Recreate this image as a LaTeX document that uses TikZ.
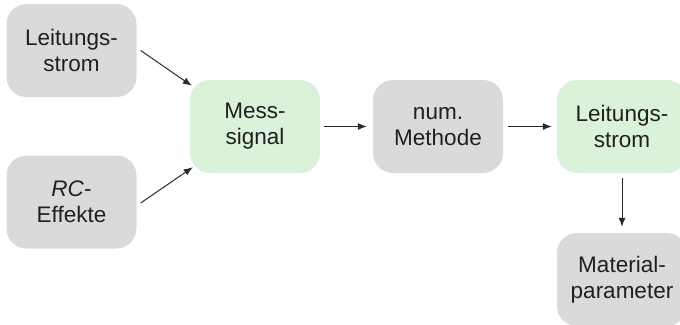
\documentclass[tikz,border=0pt]{standalone}
\usepackage{fontspec}
\setmainfont{Liberation Sans}
\usetikzlibrary{calc,arrows.meta}
\definecolor{boxgray}{HTML}{D9DADC}
\definecolor{boxgreen}{HTML}{D9F2D9}
\definecolor{txt}{HTML}{231F20}
\definecolor{ln}{HTML}{2A2A2A}
\begin{document}
\begin{tikzpicture}[x=1pt,y=-1pt,
  box/.style={rounded corners=20pt, minimum width=130pt, minimum height=93pt,
    inner sep=0pt, align=center, text=txt,
    font=\fontsize{22.5}{26}\selectfont},
  gbox/.style={box, fill=boxgray},
  ebox/.style={box, fill=boxgreen},
  conn/.style={draw=ln, line width=1pt, -{Latex[length=9pt,width=7pt]}}]
\useasboundingbox (0,0) rectangle (680,324);
\clip (0,0) rectangle (680,324);
\node[gbox] (lin) at (71.5,50.5) {Leitungs-\\strom};
\node[gbox] (rc) at (71.5,202) {\textit{RC}-\\Effekte};
\node[ebox] (mess) at (255,126.5) {Mess-\\signal};
\node[gbox] (num) at (438,126.5) {num.\\Methode};
\node[ebox] (lout) at (622,126.5) {Leitungs-\\strom};
\node[gbox] (mat) at (622,279.5) {Material-\\parameter};
\draw[conn] ($(lin.east)+(4,0)$) -- ($(mess.north west)+(2,6)$);
\draw[conn] ($(rc.east)+(4,1)$) -- ($(mess.south west)+(3,-6)$);
\draw[conn] ($(mess.east)+(4,0)$) -- ($(num.west)+(-6,0)$);
\draw[conn] ($(num.east)+(5,0)$) -- ($(lout.west)+(-5,0)$);
\draw[conn] ($(lout.south)+(0,5)$) -- ($(mat.north)+(0,-6)$);
\end{tikzpicture}
\end{document}
